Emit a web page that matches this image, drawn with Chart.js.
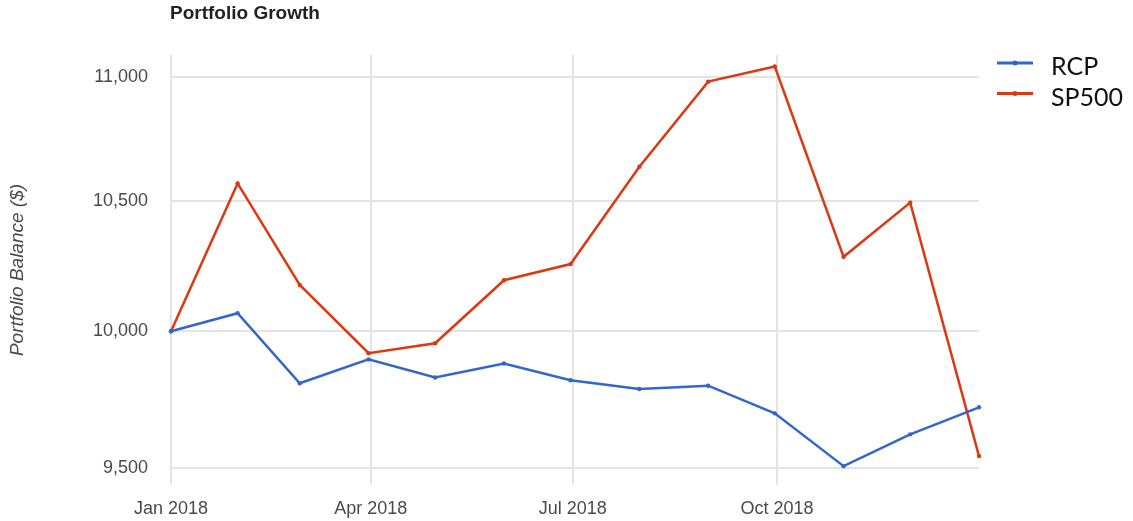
<!DOCTYPE html>
<html>
<head>
<meta charset="utf-8">
<script src="https://cdn.jsdelivr.net/npm/chart.js@4.4.1/dist/chart.umd.min.js"></script>
<style>
  html, body { margin: 0; padding: 0; background: #ffffff; }
  #wrap { width: 1133px; height: 521px; }
</style>
</head>
<body>
<div id="wrap"><canvas id="c" width="1133" height="521"></canvas></div>
<script>
// ---- data ----
const chartTitle = 'Portfolio Growth';
const yAxisTitle = 'Portfolio Balance ($)';
const dates = ['2018-01-01','2018-01-31','2018-02-28','2018-03-31','2018-04-30','2018-05-31','2018-06-30',
               '2018-07-31','2018-08-31','2018-09-30','2018-10-31','2018-11-30','2018-12-31'];
const rcpValues   = [10000, 10068, 9807, 9895, 9828, 9880, 9818, 9786, 9798, 9697, 9507, 9621, 9719];
const sp500Values = [10000, 10570, 10175, 9918, 9955, 10193, 10255, 10636, 10981, 11043, 10283, 10494, 9543];
const seriesNames = ['RCP', 'SP500'];
const xTickDates  = ['2018-01-01','2018-04-01','2018-07-01','2018-10-01'];
const xTickLabels = ['Jan 2018','Apr 2018','Jul 2018','Oct 2018'];
const yTickValues = [9500, 10000, 10500, 11000];
const xRange = ['2018-01-01', '2018-12-31'];
const yRange = [9440, 11091];

// ---- helpers ----
const DAY = 86400000;
const origin = Date.parse(xRange[0] + 'T00:00:00Z');
const dayOf = d => Math.round((Date.parse(d + 'T00:00:00Z') - origin) / DAY);
const xTickDays = xTickDates.map(dayOf);
const toPoints = vals => vals.map((v, i) => ({ x: dayOf(dates[i]), y: v }));

const FONT = '"Liberation Sans", Arial, sans-serif';
const colors = ['#3366cc', '#dc3912'];

const titlePlugin = {
  id: 'topTitle',
  afterDraw(chart) {
    const ctx = chart.ctx;
    ctx.save();
    ctx.font = 'bold 19px ' + FONT;
    ctx.fillStyle = '#222';
    ctx.textAlign = 'left';
    ctx.textBaseline = 'middle';
    ctx.fillText(chartTitle, chart.chartArea.left - 1, 14);
    ctx.restore();
  }
};

const legendPlugin = {
  id: 'sideLegend',
  afterDraw(chart) {
    const ctx = chart.ctx;
    const x0 = chart.chartArea.right + 18;
    ctx.save();
    chart.data.datasets.forEach((ds, i) => {
      const ly = 63 + i * 30.5;
      ctx.strokeStyle = ds.borderColor;
      ctx.lineWidth = 3;
      ctx.beginPath();
      ctx.moveTo(x0, ly);
      ctx.lineTo(x0 + 36, ly);
      ctx.stroke();
      ctx.fillStyle = ds.borderColor;
      ctx.beginPath();
      ctx.arc(x0 + 18, ly, 2.5, 0, Math.PI * 2);
      ctx.fill();
      ctx.font = '25px Lato, "Open Sans", sans-serif';
      ctx.fillStyle = '#111';
      ctx.textAlign = 'left';
      ctx.textBaseline = 'alphabetic';
      ctx.fillText(ds.label, x0 + 54, ly + 12);
    });
    ctx.restore();
  }
};

new Chart(document.getElementById('c'), {
  type: 'line',
  data: {
    datasets: [
      { label: seriesNames[0], data: toPoints(rcpValues), borderColor: colors[0], backgroundColor: colors[0],
        borderWidth: 2.5, pointRadius: 2.2, pointBorderWidth: 0, pointBackgroundColor: colors[0], tension: 0, clip: 6 },
      { label: seriesNames[1], data: toPoints(sp500Values), borderColor: colors[1], backgroundColor: colors[1],
        borderWidth: 2.5, pointRadius: 2.2, pointBorderWidth: 0, pointBackgroundColor: colors[1], tension: 0, clip: 6 }
    ]
  },
  options: {
    responsive: false,
    animation: false,
    layout: { padding: { top: 55, right: 154, left: 0, bottom: 0 } },
    plugins: { legend: { display: false }, title: { display: false }, tooltip: { enabled: false } },
    scales: {
      x: {
        type: 'linear',
        min: dayOf(xRange[0]),
        max: dayOf(xRange[1]),
        afterBuildTicks: s => { s.ticks = xTickDays.map(v => ({ value: v })); },
        afterFit: s => { s.height = 36; },
        ticks: {
          padding: 13,
          color: '#4a4a4a',
          font: { family: FONT, size: 18 },
          maxRotation: 0,
          autoSkip: false,
          callback: v => { const k = xTickDays.indexOf(v); return k >= 0 ? xTickLabels[k] : ''; }
        },
        grid: { color: '#e4e4e4', lineWidth: 2, drawTicks: false },
        border: { display: false }
      },
      y: {
        type: 'logarithmic',
        min: yRange[0],
        max: yRange[1],
        afterBuildTicks: s => { s.ticks = yTickValues.map(v => ({ value: v })); },
        afterFit: s => { s.width = 171; },
        ticks: {
          padding: 23,
          color: '#4a4a4a',
          font: { family: FONT, size: 18 },
          autoSkip: false,
          callback: v => Number(v).toLocaleString('en-US')
        },
        grid: { color: '#e4e4e4', lineWidth: 2, drawTicks: false },
        border: { display: false },
        title: {
          display: true,
          text: yAxisTitle,
          color: '#4a4a4a',
          font: { family: FONT, size: 19, style: 'italic' },
          padding: { top: 6, bottom: 0 }
        }
      }
    }
  },
  plugins: [titlePlugin, legendPlugin]
});
</script>
</body>
</html>
